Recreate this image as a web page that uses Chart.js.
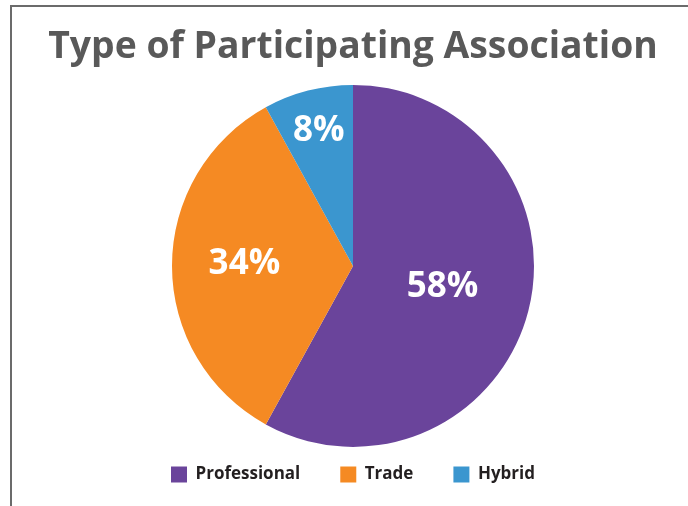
<!DOCTYPE html>
<html>
<head>
<meta charset="utf-8">
<script src="https://cdn.jsdelivr.net/npm/chart.js@4"></script>
<style>
  html, body { margin: 0; padding: 0; background: #fff; }
  #frame {
    position: absolute; left: 10px; top: 5px; width: 700px; height: 520px;
    border-left: 2px solid #6b6b6b; border-top: 2px solid #6b6b6b;
  }
  #wrap { position: absolute; left: 0; top: 0; width: 688px; height: 506px; }
</style>
</head>
<body>
<div id="frame"></div>
<div id="wrap"><canvas id="myChart" width="688" height="506"></canvas></div>
<script>
const categories = ["Professional", "Trade", "Hybrid"];
const shares = [58, 34, 8];
const sliceColors = ["#6a449b", "#f58a23", "#3b96cf"];
// how far out along each slice its percentage sits (fraction of radius)
const labelRadius = [0.51, 0.6, 0.76];

const pctLabels = {
  id: "pctLabels",
  afterDatasetsDraw(chart) {
    const ctx = chart.ctx;
    const arcs = chart.getDatasetMeta(0).data;
    ctx.save();
    ctx.fillStyle = "#ffffff";
    ctx.font = "bold 35px 'Open Sans'";
    ctx.textAlign = "center";
    ctx.textBaseline = "middle";
    arcs.forEach(function (arc, i) {
      const p = arc.getProps(["x", "y", "startAngle", "endAngle", "outerRadius"], true);
      const mid = (p.startAngle + p.endAngle) / 2;
      const r = p.outerRadius * labelRadius[i];
      ctx.fillText(shares[i] + "%", p.x + Math.cos(mid) * r, p.y + Math.sin(mid) * r - 2);
    });
    ctx.restore();
  }
};

const ctx = document.getElementById("myChart").getContext("2d");
const myChart = new Chart(ctx, {
  type: "pie",
  data: {
    labels: categories,
    datasets: [
      {
        data: shares,
        backgroundColor: sliceColors,
        borderWidth: 0,
        radius: 181,
        clip: false,
      },
    ],
  },
  options: {
    responsive: false,
    animation: false,
    layout: { padding: { left: 18, right: 0, top: 0, bottom: 13 } },
    plugins: {
      title: {
        display: true,
        text: "Type of Participating Association",
        color: "#595959",
        font: { family: "'Open Sans'", size: 37.3, weight: "bold" },
        padding: { top: 25, bottom: 36 },
      },
      legend: {
        position: "bottom",
        labels: {
          color: "#231f20",
          font: { family: "'Open Sans'", size: 17, weight: "bold" },
          boxWidth: 16,
          boxHeight: 16,
          padding: 40,
        },
      },
      tooltip: { enabled: false },
    },
  },
  plugins: [pctLabels],
});
</script>
</body>
</html>
